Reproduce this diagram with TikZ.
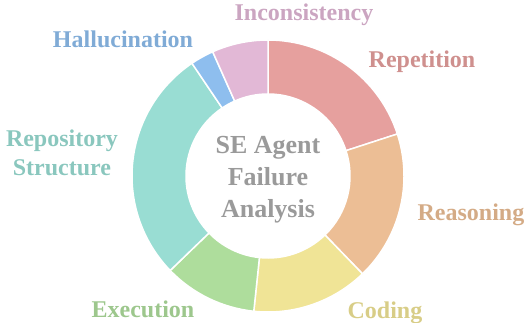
\documentclass[tikz,border=0pt]{standalone}
\usepackage{fontspec}
\setmainfont{Liberation Serif}
\usepackage{tikz}
\usetikzlibrary{positioning}

\definecolor{repcol}{HTML}{E6A09E}
\definecolor{reacol}{HTML}{ECBE95}
\definecolor{codcol}{HTML}{F0E496}
\definecolor{execol}{HTML}{AEDD9C}
\definecolor{strcol}{HTML}{99DDD3}
\definecolor{halcol}{HTML}{8EBEEE}
\definecolor{inccol}{HTML}{E2B8D6}
\definecolor{titlecol}{HTML}{9A9A9A}

\begin{document}
\begin{tikzpicture}[x=1pt, y=1pt,
  wedge/.style={draw=white, line width=1.5pt, line join=round},
  lbl/.style={font=\bfseries\fontsize{24}{29}\selectfont, align=center, inner sep=0pt}]
\useasboundingbox (0,0) rectangle (525,322);
\coordinate (c) at (268,146);
% ring
\filldraw[wedge, fill=repcol] (c) ++(90:136) arc (90:18:136pt) -- ++(18:-54) arc (18:90:82pt) -- cycle;
\filldraw[wedge, fill=reacol] (c) ++(18:136) arc (18:-46:136pt) -- ++(-46:-54) arc (-46:18:82pt) -- cycle;
\filldraw[wedge, fill=codcol] (c) ++(-46:136) arc (-46:-96:136pt) -- ++(-96:-54) arc (-96:-46:82pt) -- cycle;
\filldraw[wedge, fill=execol] (c) ++(-96:136) arc (-96:-136:136pt) -- ++(-136:-54) arc (-136:-96:82pt) -- cycle;
\filldraw[wedge, fill=strcol] (c) ++(-136:136) arc (-136:-236:136pt) -- ++(-236:-54) arc (-236:-136:82pt) -- cycle;
\filldraw[wedge, fill=halcol] (c) ++(-236:136) arc (-236:-246:136pt) -- ++(-246:-54) arc (-246:-236:82pt) -- cycle;
\filldraw[wedge, fill=inccol] (c) ++(-246:136) arc (-246:-270:136pt) -- ++(-270:-54) arc (-270:-246:82pt) -- cycle;
% title
\node[font=\bfseries\fontsize{26}{32}\selectfont, align=center, text=titlecol] (title) at (268,142) {SE Agent\\Failure\\Analysis};
% labels
\node[lbl, anchor=base, text=inccol!90!black] (inconsistency) at (304,301) {Inconsistency};
\node[lbl, anchor=base, text=halcol!90!black] (hallucination) at (123,274) {Hallucination};
\node[lbl, anchor=base, text=repcol!90!black] (repetition) at (422,254) {Repetition};
\node[lbl, anchor=base, text=reacol!90!black] (reasoning) at (471,102) {Reasoning};
\node[lbl, anchor=base, text=codcol!90!black] (coding) at (385,4) {Coding};
\node[lbl, anchor=base, text=execol!90!black] (execution) at (143,5) {Execution};
\node[lbl, text=strcol!90!black] (structure) at (62,169) {Repository\\Structure};
\end{tikzpicture}
\end{document}
